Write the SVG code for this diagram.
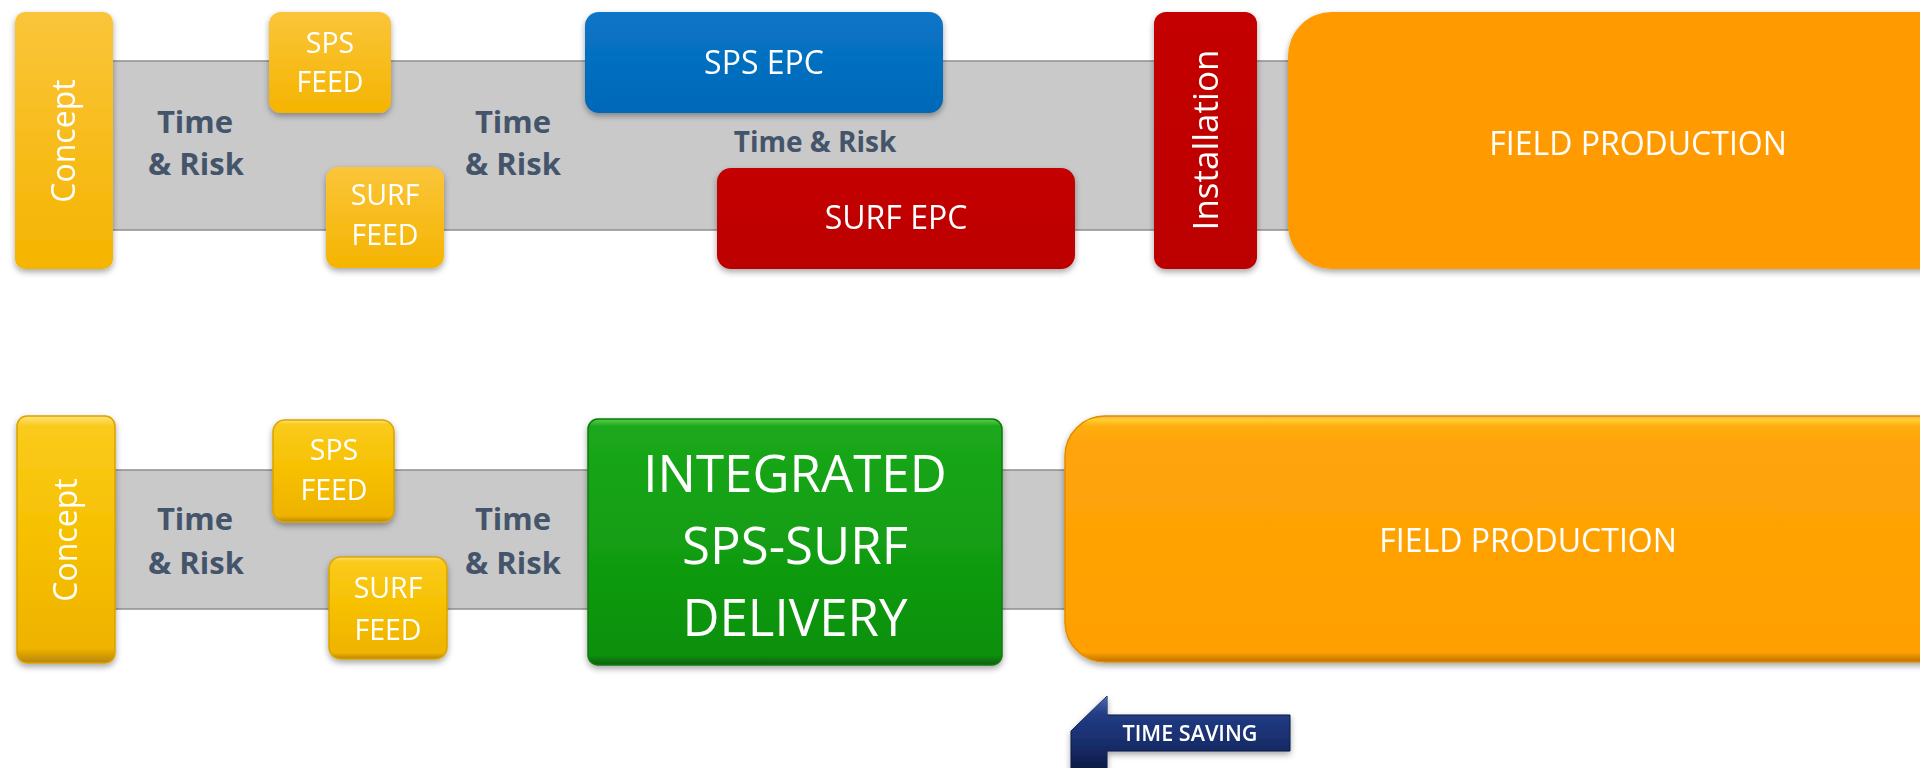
<svg xmlns="http://www.w3.org/2000/svg" width="1920" height="768" viewBox="0 0 1920 768">
  <defs>
    <style>
      .lbl { font-family: "Open Sans", "Liberation Sans", sans-serif; fill: #ffffff; text-anchor: middle; }
      .risk { font-family: "Open Sans", "Liberation Sans", sans-serif; fill: #44546A; font-weight: 700; text-anchor: middle; }
      .band { fill: #C9C9C9; stroke: #8E8E8E; stroke-width: 1.5; }
    </style>
    <filter id="shadow" x="-10%" y="-10%" width="120%" height="130%">
      <feDropShadow dx="0" dy="3" stdDeviation="3" flood-color="#000" flood-opacity="0.35"/>
    </filter>
    <!-- flat-style fills (upper timeline) -->
    <linearGradient id="goldFlat" x1="0" y1="0" x2="0" y2="1">
      <stop offset="0" stop-color="#FAC53A"/>
      <stop offset="1" stop-color="#F5B400"/>
    </linearGradient>
    <linearGradient id="blueFlat" x1="0" y1="0" x2="0" y2="1">
      <stop offset="0" stop-color="#0A75C6"/>
      <stop offset="1" stop-color="#0068B8"/>
    </linearGradient>
    <linearGradient id="redFlat" x1="0" y1="0" x2="0" y2="1">
      <stop offset="0" stop-color="#C40404"/>
      <stop offset="1" stop-color="#BC0000"/>
    </linearGradient>
    <!-- bevelled fills (lower timeline) -->
    <linearGradient id="goldBevel" x1="0" y1="0" x2="0" y2="1">
      <stop offset="0" stop-color="#FFE27A"/>
      <stop offset="0.04" stop-color="#FACB1C"/>
      <stop offset="0.5" stop-color="#F6C000"/>
      <stop offset="0.94" stop-color="#EFB300"/>
      <stop offset="1" stop-color="#B8860B"/>
    </linearGradient>
    <linearGradient id="greenBevel" x1="0" y1="0" x2="0" y2="1">
      <stop offset="0" stop-color="#5ACF4E"/>
      <stop offset="0.03" stop-color="#1BA81B"/>
      <stop offset="0.5" stop-color="#129E12"/>
      <stop offset="0.96" stop-color="#0D900D"/>
      <stop offset="1" stop-color="#075E07"/>
    </linearGradient>
    <linearGradient id="orangeBevel" x1="0" y1="0" x2="0" y2="1">
      <stop offset="0" stop-color="#F0B050"/>
      <stop offset="0.015" stop-color="#FFD030"/>
      <stop offset="0.04" stop-color="#FFAE12"/>
      <stop offset="0.1" stop-color="#FFA40A"/>
      <stop offset="0.96" stop-color="#FFA000"/>
      <stop offset="1" stop-color="#BE7000"/>
    </linearGradient>
    <linearGradient id="navy" x1="0" y1="0" x2="0" y2="1">
      <stop offset="0" stop-color="#4A68B0"/>
      <stop offset="0.25" stop-color="#223C84"/>
      <stop offset="0.7" stop-color="#172C68"/>
      <stop offset="1" stop-color="#0C1A45"/>
    </linearGradient>
  </defs>

  <rect width="1920" height="768" fill="#ffffff"/>

  <!-- timeline bands -->
  <g id="connectors">
    <rect class="band" x="100" y="61" width="1200" height="169"/>
    <rect class="band" x="100" y="470" width="980" height="139"/>
  </g>

  <!-- ===== upper timeline: separate SPS and SURF contracts ===== -->
  <g id="concept-1" filter="url(#shadow)">
    <rect x="15" y="12" width="98" height="257" rx="10" fill="url(#goldFlat)"/>
    <text class="lbl" font-size="32" transform="translate(64,141) rotate(-90)" y="11">Concept</text>
  </g>

  <g id="time-risk-1a">
    <text class="risk" font-size="31" x="195" y="133">Time</text>
    <text class="risk" font-size="31" x="196" y="175">&amp; Risk</text>
  </g>

  <g id="sps-feed-1" filter="url(#shadow)">
    <rect x="269" y="12" width="122" height="101" rx="12" fill="url(#goldFlat)"/>
    <text class="lbl" font-size="28.5" x="330" y="53">SPS</text>
    <text class="lbl" font-size="28.5" x="330" y="92">FEED</text>
  </g>

  <g id="surf-feed-1" filter="url(#shadow)">
    <rect x="326" y="167" width="118" height="101" rx="12" fill="url(#goldFlat)"/>
    <text class="lbl" font-size="28.5" x="385" y="205">SURF</text>
    <text class="lbl" font-size="28.5" x="385" y="245">FEED</text>
  </g>

  <g id="time-risk-1b">
    <text class="risk" font-size="31" x="513" y="133">Time</text>
    <text class="risk" font-size="31" x="513" y="175">&amp; Risk</text>
  </g>

  <g id="sps-epc" filter="url(#shadow)">
    <rect x="585" y="12" width="358" height="101" rx="14" fill="url(#blueFlat)"/>
    <text class="lbl" font-size="32" x="764" y="74">SPS EPC</text>
  </g>

  <g id="time-risk-1c">
    <text class="risk" font-size="28" x="815" y="152">Time &amp; Risk</text>
  </g>

  <g id="surf-epc" filter="url(#shadow)">
    <rect x="717" y="168" width="358" height="101" rx="14" fill="url(#redFlat)"/>
    <text class="lbl" font-size="32" x="896" y="229">SURF EPC</text>
  </g>

  <g id="installation" filter="url(#shadow)">
    <rect x="1154" y="12" width="103" height="257" rx="12" fill="url(#redFlat)"/>
    <text class="lbl" font-size="35" transform="translate(1206,140) rotate(-90)" y="12">Installation</text>
  </g>

  <g id="field-production-1" filter="url(#shadow)">
    <rect x="1288" y="12" width="720" height="257" rx="44" fill="#FF9A00"/>
    <text class="lbl" font-size="32" x="1638" y="155">FIELD PRODUCTION</text>
  </g>

  <!-- ===== lower timeline: integrated SPS-SURF delivery ===== -->
  <g id="concept-2" filter="url(#shadow)">
    <rect x="17" y="416" width="98" height="247" rx="10" fill="url(#goldBevel)" stroke="#D9A300" stroke-width="1.5"/>
    <text class="lbl" font-size="32" transform="translate(66,540) rotate(-90)" y="11">Concept</text>
  </g>

  <g id="time-risk-2a">
    <text class="risk" font-size="31" x="195" y="530">Time</text>
    <text class="risk" font-size="31" x="196" y="574">&amp; Risk</text>
  </g>

  <g id="sps-feed-2" filter="url(#shadow)">
    <rect x="273" y="420" width="121" height="102" rx="12" fill="url(#goldBevel)" stroke="#D9A300" stroke-width="1.5"/>
    <text class="lbl" font-size="28.5" x="334" y="460">SPS</text>
    <text class="lbl" font-size="28.5" x="334" y="500">FEED</text>
  </g>

  <g id="surf-feed-2" filter="url(#shadow)">
    <rect x="329" y="557" width="118" height="102" rx="12" fill="url(#goldBevel)" stroke="#D9A300" stroke-width="1.5"/>
    <text class="lbl" font-size="28.5" x="388" y="598">SURF</text>
    <text class="lbl" font-size="28.5" x="388" y="640">FEED</text>
  </g>

  <g id="time-risk-2b">
    <text class="risk" font-size="31" x="513" y="530">Time</text>
    <text class="risk" font-size="31" x="513" y="574">&amp; Risk</text>
  </g>

  <g id="integrated-delivery" filter="url(#shadow)">
    <rect x="588" y="419" width="414" height="246" rx="10" fill="url(#greenBevel)" stroke="#0A7A0A" stroke-width="1.5"/>
    <text class="lbl" font-size="51" x="795" y="492">INTEGRATED</text>
    <text class="lbl" font-size="51" x="795" y="564">SPS-SURF</text>
    <text class="lbl" font-size="51" x="795" y="636">DELIVERY</text>
  </g>

  <g id="field-production-2" filter="url(#shadow)">
    <rect x="1065" y="416" width="940" height="246" rx="40" fill="url(#orangeBevel)" stroke="#E08E00" stroke-width="1.5"/>
    <text class="lbl" font-size="32" x="1528" y="552">FIELD PRODUCTION</text>
  </g>

  <g id="time-saving" filter="url(#shadow)">
    <path d="M1071,731 L1107,696 L1107,715 L1290,715 L1290,751 L1107,751 L1107,768 L1071,768 Z" fill="url(#navy)" stroke="#0C1A45" stroke-width="1"/>
    <path d="M1071,731 L1107,696 L1107,768 Z" fill="url(#navy)"/>
    <text class="lbl" font-size="22" font-weight="600" x="1190" y="741" textLength="135" lengthAdjust="spacingAndGlyphs">TIME SAVING</text>
  </g>
</svg>
